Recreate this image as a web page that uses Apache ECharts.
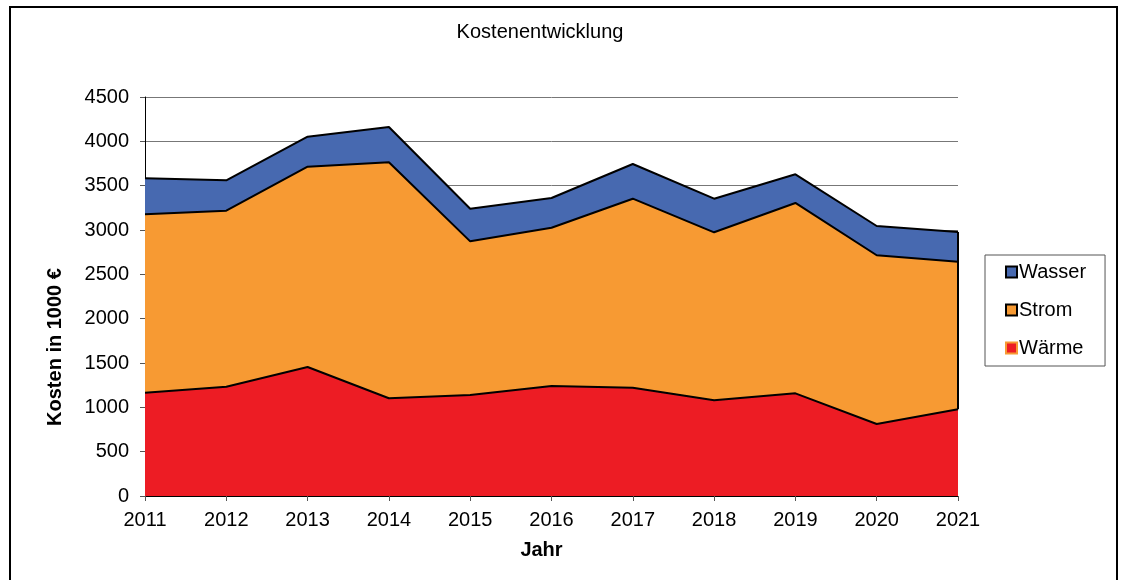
<!DOCTYPE html>
<html>
<head>
<meta charset="utf-8">
<script src="https://cdn.jsdelivr.net/npm/echarts@6/dist/echarts.min.js"></script>
<style>
  html, body {margin: 0; padding: 0; background: #fff;}
  #chart {width: 1122px; height: 580px;}
</style>
</head>
<body>
<div id="chart"></div>
<script>
const years = ['2011', '2012', '2013', '2014', '2015', '2016', '2017', '2018', '2019', '2020', '2021'];
const waerme = [1165, 1233, 1455, 1102, 1139, 1241, 1222, 1079, 1158, 812, 978];
const strom = [2012, 1985, 2259, 2662, 1733, 1785, 2131, 1895, 2147, 1903, 1665];
const wasser = [406, 342, 338, 398, 368, 335, 391, 379, 323, 330, 334];

const font = 'Liberation Sans, Arial, sans-serif';
const last = years.length - 1;
const wasser_top = waerme[last] + strom[last] + wasser[last];

const chart = echarts.init(document.getElementById('chart'));

function areaSeries(name, values, color) {
  return {
    name: name,
    type: 'line',
    stack: 'total',
    data: values,
    symbol: 'none',
    lineStyle: {color: '#000', width: 2},
    areaStyle: {color: color, opacity: 1},
    itemStyle: {color: color},
    z: 2
  };
}

const waermeSeries = areaSeries('Wärme', waerme, '#ED1C24');
const stromSeries = areaSeries('Strom', strom, '#F79A33');
const wasserSeries = areaSeries('Wasser', wasser, '#4769B0');
// right edge of the areas, like the closed polygons in the original
wasserSeries.markLine = {
  silent: true,
  symbol: 'none',
  label: {show: false},
  lineStyle: {color: '#000', width: 2, type: 'solid'},
  data: [[{coord: [years[last], waerme[last]]}, {coord: [years[last], wasser_top]}]]
};

chart.setOption({
  animation: false,
  textStyle: {fontFamily: font},
  title: {
    text: 'Kostenentwicklung',
    left: 535,
    textAlign: 'center',
    top: 17,
    textStyle: {fontFamily: font, fontSize: 20, fontWeight: 'normal', color: '#000'}
  },
  graphic: [
    {
      type: 'rect',
      shape: {x: 10, y: 7, width: 1107, height: 590},
      style: {fill: null, stroke: '#000', lineWidth: 2},
      silent: true
    },
    {
      type: 'text',
      x: 55,
      y: 347,
      rotation: Math.PI / 2,
      style: {
        text: 'Kosten in 1000 €',
        font: 'bold 20px ' + font,
        fill: '#000',
        align: 'center',
        verticalAlign: 'middle'
      }
    }
  ],
  legend: {
    orient: 'vertical',
    left: 985,
    top: 255,
    padding: [7, 19, 8, 20],
    itemGap: 18,
    itemWidth: 11,
    itemHeight: 11,
    icon: 'rect',
    borderColor: '#555',
    borderWidth: 1,
    textStyle: {fontFamily: font, fontSize: 20, color: '#000', padding: [0, 0, 0, -3]},
    data: [
      {name: 'Wasser', itemStyle: {color: '#4769B0', borderColor: '#000', borderWidth: 2}},
      {name: 'Strom', itemStyle: {color: '#F79A33', borderColor: '#000', borderWidth: 2}},
      {name: 'Wärme', itemStyle: {color: '#ED1C24', borderColor: '#F79A33', borderWidth: 2}}
    ]
  },
  grid: {left: 145, right: 164, top: 97, bottom: 84},
  xAxis: {
    type: 'category',
    data: years,
    boundaryGap: false,
    name: 'Jahr',
    nameLocation: 'middle',
    nameGap: 44,
    nameTextStyle: {fontFamily: font, fontSize: 20, fontWeight: 'bold', color: '#000', padding: [0, 20, 0, 0]},
    axisLine: {lineStyle: {color: '#000', width: 1}},
    axisTick: {show: true, alignWithLabel: true, length: 5, lineStyle: {color: '#555'}},
    axisLabel: {fontFamily: font, fontSize: 20, color: '#000', margin: 14},
    splitLine: {show: false}
  },
  yAxis: {
    type: 'value',
    min: 0,
    max: 4500,
    interval: 500,
    axisLine: {show: true, lineStyle: {color: '#000', width: 1}},
    axisTick: {show: true, length: 5, lineStyle: {color: '#555'}},
    axisLabel: {fontFamily: font, fontSize: 20, color: '#000', margin: 16, formatter: (v) => String(v)},
    splitLine: {lineStyle: {color: '#777', width: 1}}
  },
  series: [waermeSeries, stromSeries, wasserSeries]
});
</script>
</body>
</html>
